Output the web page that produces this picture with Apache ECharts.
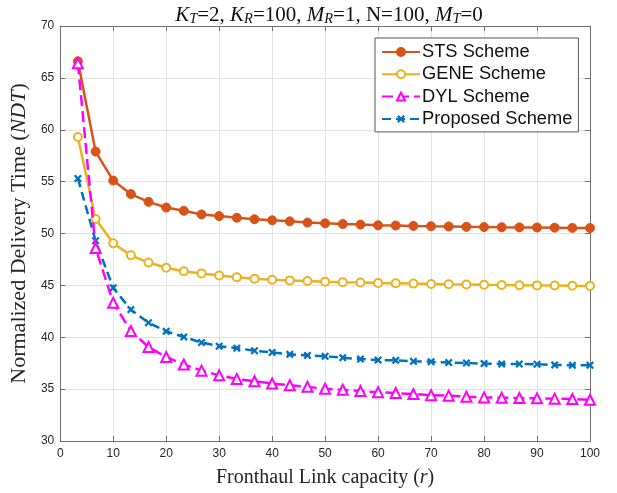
<!DOCTYPE html>
<html>
<head>
<meta charset="utf-8">
<script src="https://cdn.jsdelivr.net/npm/echarts@6/dist/echarts.min.js"></script>
<style>html,body{margin:0;padding:0;background:#fff;}#c{width:617px;height:493px;}</style>
</head>
<body>
<div id="c"></div>
<script>
var rValues = [3.33, 6.67, 10, 13.33, 16.67, 20, 23.33, 26.67, 30, 33.33, 36.67, 40, 43.33, 46.67, 50,
  53.33, 56.67, 60, 63.33, 66.67, 70, 73.33, 76.67, 80, 83.33, 86.67, 90, 93.33, 96.67, 100];
var stsValues = [66.6, 57.9, 55.1, 53.8, 53.05, 52.5, 52.19, 51.84, 51.68, 51.52, 51.37, 51.27, 51.17, 51.05, 50.98,
  50.92, 50.86, 50.79, 50.77, 50.73, 50.70, 50.68, 50.64, 50.62, 50.6, 50.59, 50.58, 50.56, 50.54, 50.53];
var geneValues = [59.3, 51.4, 49.05, 47.9, 47.2, 46.7, 46.37, 46.14, 45.95, 45.78, 45.65, 45.55, 45.48, 45.42, 45.36,
  45.31, 45.27, 45.23, 45.2, 45.17, 45.14, 45.11, 45.09, 45.06, 45.04, 45.02, 45.0, 44.98, 44.96, 44.95];
var dylValues = [66.4, 48.6, 43.33, 40.6, 39.05, 38.1, 37.38, 36.78, 36.33, 35.98, 35.76, 35.54, 35.38, 35.22, 35.03,
  34.94, 34.81, 34.71, 34.62, 34.52, 34.42, 34.37, 34.27, 34.2, 34.17, 34.14, 34.11, 34.08, 34.05, 33.98];
var proposedValues = [55.3, 49.3, 44.76, 42.67, 41.4, 40.57, 40.03, 39.49, 39.14, 38.95, 38.7, 38.54, 38.35, 38.25, 38.16,
  38.03, 37.9, 37.8, 37.78, 37.68, 37.65, 37.56, 37.52, 37.46, 37.43, 37.42, 37.4, 37.33, 37.3, 37.3];
var seriesNames = ['STS Scheme', 'GENE Scheme', 'DYL Scheme', 'Proposed Scheme'];

function pairs(ys) { return rValues.map(function (x, i) { return [x, ys[i]]; }); }

var xMark = 'path://M2,0 L5,3 L8,0 L10,2 L7,5 L10,8 L8,10 L5,7 L2,10 L0,8 L3,5 L0,2 Z';
var axisColor = '#6e6e6e';
var labelFont = { color: '#262626', fontSize: 12, fontFamily: 'Liberation Sans, Arial, sans-serif' };
var serif = 'Liberation Serif, Times New Roman, serif';

var chart = echarts.init(document.getElementById('c'), null, { renderer: 'canvas' });
chart.setOption({
  backgroundColor: '#fff',
  animation: false,
  title: {
    text: '{i|K}{s|T}{a|=2, }{i|K}{s|R}{a|=100, }{i|M}{s|R}{a|=1, N=100, }{i|M}{s|T}{a|=0}',
    left: 324, top: -2, textAlign: 'center',
    textStyle: {
      fontWeight: 'normal',
      rich: {
        a: { fontFamily: serif, fontSize: 21, fontWeight: 'normal', color: '#111', lineHeight: 24, verticalAlign: 'middle' },
        i: { fontFamily: serif, fontSize: 21, fontWeight: 'normal', fontStyle: 'italic', color: '#111', lineHeight: 24, verticalAlign: 'middle' },
        s: { fontFamily: serif, fontSize: 14.5, fontWeight: 'normal', fontStyle: 'italic', color: '#111', lineHeight: 13, verticalAlign: 'bottom' }
      }
    }
  },
  grid: { left: 57, right: 27, top: 26, bottom: 48, containLabel: false },
  legend: {
    data: seriesNames,
    orient: 'vertical',
    left: 375, top: 38,
    itemWidth: 38, itemHeight: 10, itemGap: 4.3,
    padding: [5, 6, 4, 6],
    backgroundColor: '#fff',
    borderColor: '#555', borderWidth: 1,
    textStyle: { fontSize: 18.3, lineHeight: 18, color: '#111', fontFamily: 'Liberation Sans, Arial, sans-serif', padding: [0, 0, 0, -3] }
  },
  xAxis: [{
    type: 'value', min: 0, max: 100, interval: 10,
    name: '{a|Fronthaul Link capacity (}{i|r}{a|)}',
    nameLocation: 'middle', nameGap: 27,
    nameTextStyle: { rich: {
      a: { fontFamily: serif, fontSize: 20, color: '#262626' },
      i: { fontFamily: serif, fontSize: 20, fontStyle: 'italic', color: '#262626' } } },
    axisLine: { show: true, onZero: false, lineStyle: { color: axisColor, width: 1 } },
    axisTick: { show: true, inside: true, length: 5, lineStyle: { color: axisColor } },
    axisLabel: Object.assign({ margin: 7 }, labelFont),
    splitLine: { show: true, lineStyle: { color: '#e3e3e3', width: 1 } }
  }, {
    type: 'value', min: 0, max: 100, interval: 10, position: 'top',
    axisLine: { show: true, onZero: false, lineStyle: { color: axisColor, width: 1 } },
    axisTick: { show: true, inside: true, length: 5, lineStyle: { color: axisColor } },
    axisLabel: { show: false }, splitLine: { show: false }
  }],
  yAxis: [{
    type: 'value', min: 30, max: 70, interval: 5,
    name: '{a|Normalized Delivery Time (}{i|NDT}{a|)}',
    nameLocation: 'middle', nameGap: 21,
    nameTextStyle: { rich: {
      a: { fontFamily: serif, fontSize: 22, color: '#262626' },
      i: { fontFamily: serif, fontSize: 22, fontStyle: 'italic', color: '#262626' } } },
    axisLine: { show: true, onZero: false, lineStyle: { color: axisColor, width: 1 } },
    axisTick: { show: true, inside: true, length: 5, lineStyle: { color: axisColor } },
    axisLabel: Object.assign({ margin: 6 }, labelFont),
    splitLine: { show: true, lineStyle: { color: '#e3e3e3', width: 1 } }
  }, {
    type: 'value', min: 30, max: 70, interval: 5, position: 'right',
    axisLine: { show: true, onZero: false, lineStyle: { color: axisColor, width: 1 } },
    axisTick: { show: true, inside: true, length: 5, lineStyle: { color: axisColor } },
    axisLabel: { show: false }, splitLine: { show: false }
  }],
  series: [{
    name: seriesNames[0], type: 'line', data: pairs(stsValues),
    symbol: 'circle', symbolSize: 9,
    lineStyle: { color: '#D95319', width: 2.5 },
    itemStyle: { color: '#D95319', borderColor: '#D95319', borderWidth: 1 },
    z: 4
  }, {
    name: seriesNames[1], type: 'line', data: pairs(geneValues),
    symbol: 'emptyCircle', symbolSize: 8,
    lineStyle: { color: '#EDB120', width: 2.5 },
    itemStyle: { color: '#EDB120', borderColor: '#EDB120', borderWidth: 2.5 },
    z: 3
  }, {
    name: seriesNames[2], type: 'line', data: pairs(dylValues),
    symbol: 'emptyTriangle', symbolSize: 10,
    lineStyle: { color: '#FF00FF', width: 2.5, type: [11, 5] },
    itemStyle: { color: '#FF00FF', borderColor: '#FF00FF', borderWidth: 2 },
    z: 5
  }, {
    name: seriesNames[3], type: 'line', data: pairs(proposedValues),
    symbol: xMark, symbolSize: 8,
    lineStyle: { color: '#0072BD', width: 2.5, type: [9, 5] },
    itemStyle: { color: '#0072BD', borderColor: '#0072BD', borderWidth: 0 },
    z: 2
  }]
});
</script>
</body>
</html>
